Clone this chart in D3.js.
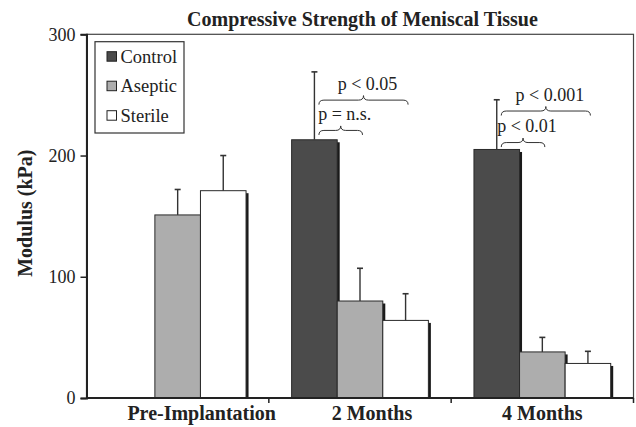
<!DOCTYPE html>
<html>
<head>
<meta charset="utf-8">
<script src="https://cdn.jsdelivr.net/npm/d3@7"></script>
<style>
  body { margin: 0; background: #fff; }
  svg { display: block; font-family: "Liberation Serif", "Times New Roman", serif; }
</style>
</head>
<body>
<div class="content"></div>
<script>
// chart data
var groups = ['Pre-Implantation', '2 Months', '4 Months'];
var series = ['Control', 'Aseptic', 'Sterile'];
var colors = ['#4b4b4b', '#adadad', '#ffffff'];

var control = [null, 213, 205];
var aseptic = [151, 80, 38];
var sterile = [171, 64, 28.5];

var controlErr = [null, 56, 41];
var asepticErr = [21, 27, 12];
var sterileErr = [29, 22, 10];

var yTicks = [0, 100, 200, 300];

// significance braces, level in kPa
var braces = [
    {group: '2 Months', from: 'Control', to: 'Aseptic', label: 'p = n.s.', level: 217},
    {group: '2 Months', from: 'Control', to: 'Sterile', label: 'p < 0.05', level: 242},
    {group: '4 Months', from: 'Control', to: 'Aseptic', label: 'p < 0.01', level: 207},
    {group: '4 Months', from: 'Control', to: 'Sterile', label: 'p < 0.001', level: 233}
];

var values = [control, aseptic, sterile];
var errors = [controlErr, asepticErr, sterileErr];

var W = 636, H = 427;
var pLeft = 86.5, pRight = 633.5, pTop = 34.3, pBottom = 398;

var svg = d3.select('.content').append('svg')
    .attr('width', W)
    .attr('height', H);

var x0 = d3.scaleBand().domain(groups).range([pLeft, pRight]).padding(0);
var x1 = d3.scaleBand().domain(series).range([0, x0.bandwidth()])
    .paddingInner(0).paddingOuter(0.5);
var y = d3.scaleLinear().domain([0, 300]).range([pBottom, pTop]);

// bars
var bars = [];
series.forEach(function(s, si) {
    groups.forEach(function(g, gi) {
        if (values[si][gi] == null) return;
        bars.push({s: s, si: si, g: g, v: values[si][gi], e: errors[si][gi]});
    });
});

var barG = svg.append('g');

// shadow first
barG.selectAll('rect.shadow')
    .data(bars)
    .enter().append('rect')
    .attr('class', 'shadow')
    .attr('x', function(d) { return x0(d.g) + x1(d.s) + 2.5; })
    .attr('y', function(d) { return y(d.v) + 2.5; })
    .attr('width', x1.bandwidth())
    .attr('height', function(d) { return pBottom - y(d.v) - 2.5; })
    .attr('fill', '#1a1a1a');

barG.selectAll('rect.bar')
    .data(bars)
    .enter().append('rect')
    .attr('class', 'bar')
    .attr('x', function(d) { return x0(d.g) + x1(d.s); })
    .attr('y', function(d) { return y(d.v); })
    .attr('width', x1.bandwidth())
    .attr('height', function(d) { return pBottom - y(d.v); })
    .attr('fill', function(d) { return colors[d.si]; })
    .attr('stroke', '#2a2a2a')
    .attr('stroke-width', 1);

// error bars (upper only)
bars.forEach(function(d) {
    var cx = x0(d.g) + x1(d.s) + x1.bandwidth() / 2;
    barG.append('line')
        .attr('x1', cx).attr('x2', cx)
        .attr('y1', y(d.v)).attr('y2', y(d.v + d.e))
        .attr('stroke', '#333').attr('stroke-width', 1.4);
    barG.append('line')
        .attr('x1', cx - 3).attr('x2', cx + 3)
        .attr('y1', y(d.v + d.e)).attr('y2', y(d.v + d.e))
        .attr('stroke', '#333').attr('stroke-width', 1.6);
});

// plot frame
svg.append('rect')
    .attr('x', pLeft).attr('y', pTop)
    .attr('width', pRight - pLeft).attr('height', pBottom - pTop)
    .attr('fill', 'none')
    .attr('stroke', '#444')
    .attr('stroke-width', 1.2);

// y axis
var yAxis = d3.axisLeft(y).tickValues(yTicks).tickSize(6).tickPadding(5);
var yG = svg.append('g')
    .attr('transform', 'translate(' + pLeft + ',0)')
    .call(yAxis);
yG.select('.domain').attr('stroke', '#222').attr('stroke-width', 2);
yG.selectAll('.tick line').attr('stroke', '#222').attr('stroke-width', 1.5);
yG.selectAll('.tick text')
    .attr('font-family', '"Liberation Serif", serif')
    .attr('font-size', 18)
    .attr('fill', '#222');

// x axis: ticks at group boundaries
var xG = svg.append('g');
xG.append('line')
    .attr('x1', pLeft).attr('x2', pRight)
    .attr('y1', pBottom).attr('y2', pBottom)
    .attr('stroke', '#222').attr('stroke-width', 1.8);
groups.forEach(function(g) {
    var bx = x0(g) + x0.bandwidth();
    xG.append('line')
        .attr('x1', bx).attr('x2', bx)
        .attr('y1', pBottom).attr('y2', pBottom + 5)
        .attr('stroke', '#222').attr('stroke-width', 1.5);
});
xG.selectAll('text.cat')
    .data(groups)
    .enter().append('text')
    .attr('class', 'cat')
    .attr('x', function(d, i) { return x0(d) + x0.bandwidth() / 2 + [24, 12, 0][i]; })
    .attr('y', 420)
    .attr('text-anchor', 'middle')
    .attr('font-size', 20)
    .attr('font-weight', 'bold')
    .attr('fill', '#222')
    .text(function(d) { return d; });

// title
svg.append('text')
    .attr('x', 362.5)
    .attr('y', 26)
    .attr('text-anchor', 'middle')
    .attr('font-size', 20)
    .attr('font-weight', 'bold')
    .attr('fill', '#222')
    .text('Compressive Strength of Meniscal Tissue');

// y label
svg.append('text')
    .attr('transform', 'translate(32,' + ((pTop + pBottom) / 2 - 3) + ') rotate(-90)')
    .attr('text-anchor', 'middle')
    .attr('font-size', 20)
    .attr('font-weight', 'bold')
    .attr('fill', '#222')
    .text('Modulus (kPa)');

// legend
var leg = svg.append('g').attr('transform', 'translate(95,41.7)');
leg.append('rect')
    .attr('width', 89).attr('height', 91.3)
    .attr('fill', '#fff')
    .attr('stroke', '#333').attr('stroke-width', 1.2);
series.forEach(function(s, i) {
    var row = leg.append('g').attr('transform', 'translate(12,' + (10 + i * 29.5) + ')');
    row.append('rect')
        .attr('width', 9.5).attr('height', 9.5)
        .attr('fill', colors[i])
        .attr('stroke', '#222').attr('stroke-width', 1);
    row.append('text')
        .attr('x', 13.5).attr('y', 11)
        .attr('font-size', 18.5)
        .attr('fill', '#222')
        .text(s);
});

// significance braces
function bracePath(xa, xb, yEnd, yTip) {
    var yMid = (yEnd + yTip) / 2;
    var xm = (xa + xb) / 2;
    var r = 5;
    return 'M' + xa + ',' + yEnd +
        ' Q' + xa + ',' + yMid + ' ' + (xa + r) + ',' + yMid +
        ' L' + (xm - r) + ',' + yMid +
        ' Q' + xm + ',' + yMid + ' ' + xm + ',' + yTip +
        ' Q' + xm + ',' + yMid + ' ' + (xm + r) + ',' + yMid +
        ' L' + (xb - r) + ',' + yMid +
        ' Q' + xb + ',' + yMid + ' ' + xb + ',' + yEnd;
}

var braceG = svg.append('g');
braces.forEach(function(b) {
    var xa = x0(b.group) + x1(b.from) + x1.bandwidth() / 2 + 4.5;
    var xb = x0(b.group) + x1(b.to) + x1.bandwidth() / 2 + 2.5;
    var yEnd = y(b.level);
    var yTip = yEnd - 9;
    braceG.append('path')
        .attr('d', bracePath(xa, xb, yEnd, yTip))
        .attr('fill', 'none')
        .attr('stroke', '#333')
        .attr('stroke-width', 1);
    braceG.append('text')
        .attr('x', (xa + xb) / 2 + 4)
        .attr('y', yTip - 6)
        .attr('text-anchor', 'middle')
        .attr('font-size', 18)
        .attr('fill', '#222')
        .text(b.label);
});
</script>
</body>
</html>
